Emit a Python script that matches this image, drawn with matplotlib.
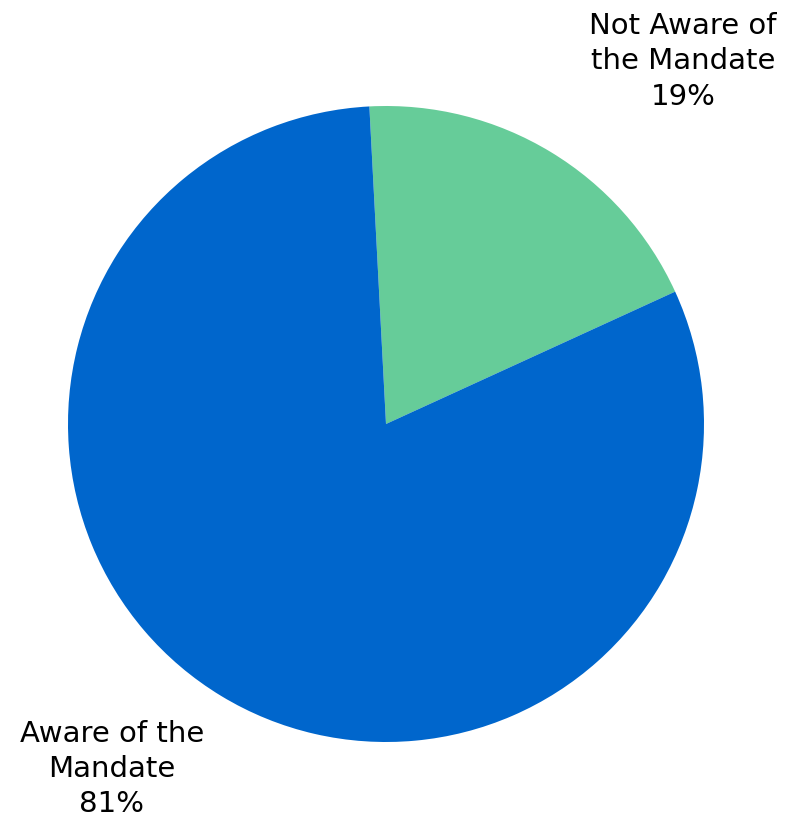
import matplotlib.pyplot as plt

labels = ["Not Aware of\nthe Mandate", "Aware of the\nMandate"]
values = [19, 81]
colors = ["#66CC99", "#0066CC"]

fig = plt.figure(figsize=(7.88, 8.21), dpi=100)
ax = fig.add_axes([0, 0, 1, 1])

ax.pie(values, colors=colors, startangle=93, counterclock=False,
       wedgeprops=dict(linewidth=0))

# label positions in pie units (radius = 1)
pos = [(0.934, 1.14), (-0.862, -1.086)]
for lab, v, (x, y) in zip(labels, values, pos):
    ax.text(x, y, f"{lab}\n{v}%", ha="center", va="center",
            fontsize=21, linespacing=1.32, color="black")

ax.set_xlim(-386 / 318, 402 / 318)
ax.set_ylim(-(821 - 424) / 318, 424 / 318)
ax.set_aspect("auto")
ax.axis("off")

fig.savefig("out.png", dpi=100)
